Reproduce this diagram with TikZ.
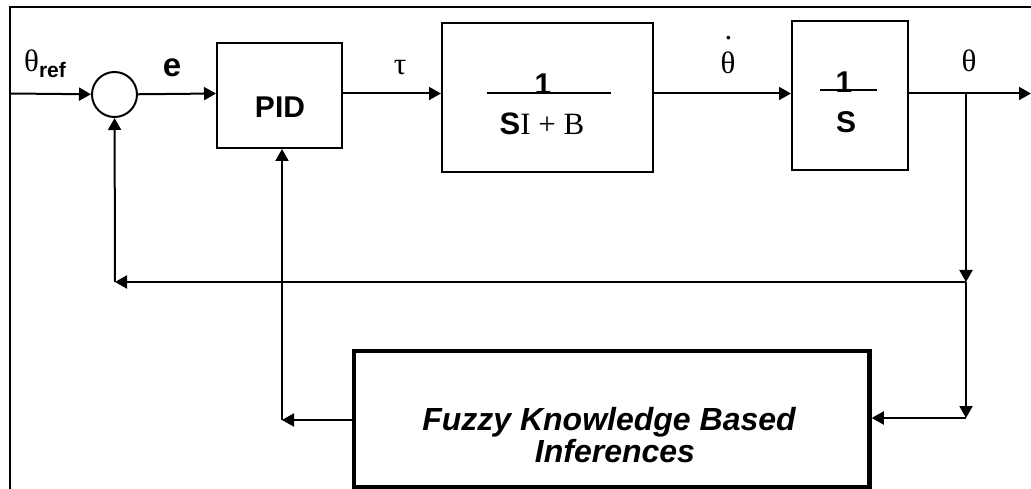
\documentclass[tikz,border=0pt]{standalone}
\usepackage{fontspec}
\setmainfont{Liberation Serif}
\setsansfont{Liberation Sans}
\usetikzlibrary{arrows.meta}
\begin{document}
\begin{tikzpicture}[x=1pt,y=-1pt,
  blk/.style={draw,line width=2pt,inner sep=0pt},
  sig/.style={line width=2pt,-{Triangle[length=12pt,width=13pt]}},
  lbl/.style={font=\fontsize{31}{34}\selectfont,inner sep=0pt},
  bsf/.style={font=\fontsize{30}{34}\selectfont\sffamily\bfseries,inner sep=0pt},
  fzt/.style={font=\fontsize{32}{34}\selectfont\sffamily\bfseries\itshape,inner sep=0pt}]
  \useasboundingbox (0,0) rectangle (1031,489);
  \draw[line width=1.6pt] (1031,7) -- (10,7) -- (10,489);
  % blocks
  \node[blk,circle,minimum size=45pt] (sum) at (114.5,94.5) {};
  \node[blk,minimum width=125pt,minimum height=105pt] (pid) at (279.5,95.5) {};
  \node[blk,minimum width=211pt,minimum height=149pt] (plant) at (547.5,97.5) {};
  \node[blk,minimum width=116pt,minimum height=149pt] (integ) at (850,95.5) {};
  \node[blk,line width=4.5pt,minimum width=515.5pt,minimum height=136pt] (fuzzy) at (611.75,419) {};
  % texts
  \node[bsf,anchor=base] (pidtxt) at (280,118) {PID};
  \node[bsf,anchor=base] (onea) at (543,95) {1};
  \draw[line width=2pt] (487,93.3) -- (611,93.3);
  \node[lbl,anchor=base] (den) at (542,135) {\textsf{\bfseries S}I + B};
  \node[bsf,anchor=base] (oneb) at (844,93) {1};
  \draw[line width=2pt] (820,90) -- (877,90);
  \node[bsf,anchor=base] (stxt) at (846,133) {S};
  \node[fzt,anchor=base] (fuzzya) at (609,430) {Fuzzy Knowledge Based};
  \node[fzt,anchor=base] (fuzzyb) at (615,462) {Inferences};
  % signal labels
  \node[lbl,anchor=base west] (thref) at (24,72) {θ\raisebox{-6pt}{\fontsize{21}{21}\selectfont\sffamily\bfseries ref}};
  \node[bsf,font=\fontsize{33}{34}\selectfont\sffamily\bfseries,anchor=base] (err) at (172,77) {e};
  \node[lbl,anchor=base] (tau) at (400,75) {τ};
  \node[lbl,anchor=base] (thdot) at (728,74) {\rlap{\raisebox{34pt}{\hspace{4pt}.}}θ};
  \node[lbl,anchor=base] (thout) at (969,72) {θ};
  % connectors
  \coordinate (in) at (10,93.5);
  \coordinate (out) at (1031,93.5);
  \coordinate (br) at (966,93.5);
  \coordinate (jn) at (966,282);
  \coordinate (fz) at (966,418);
  \coordinate (fb) at (115,282);
  \coordinate (pb) at (282,420);
  \draw[sig] (in) -- (sum);
  \draw[sig] (sum) -- (pid.west |- in);
  \draw[sig] (pid.east |- in) -- (plant.west |- in);
  \draw[sig] (plant.east |- in) -- (integ.west |- in);
  \draw[sig] (integ.east |- in) -- (out);
  \draw[sig] (br) -- (jn);
  \draw[sig] (jn) -- (fb);
  \draw[sig] (fb) -- (sum);
  \draw[sig] (jn) -- (fz);
  \draw[sig] (fz) -- (fuzzy.east |- fz);
  \draw[sig] (fuzzy.west |- pb) -- (pb);
  \draw[sig] (pb) -- (pid.south -| pb);
\end{tikzpicture}
\end{document}
